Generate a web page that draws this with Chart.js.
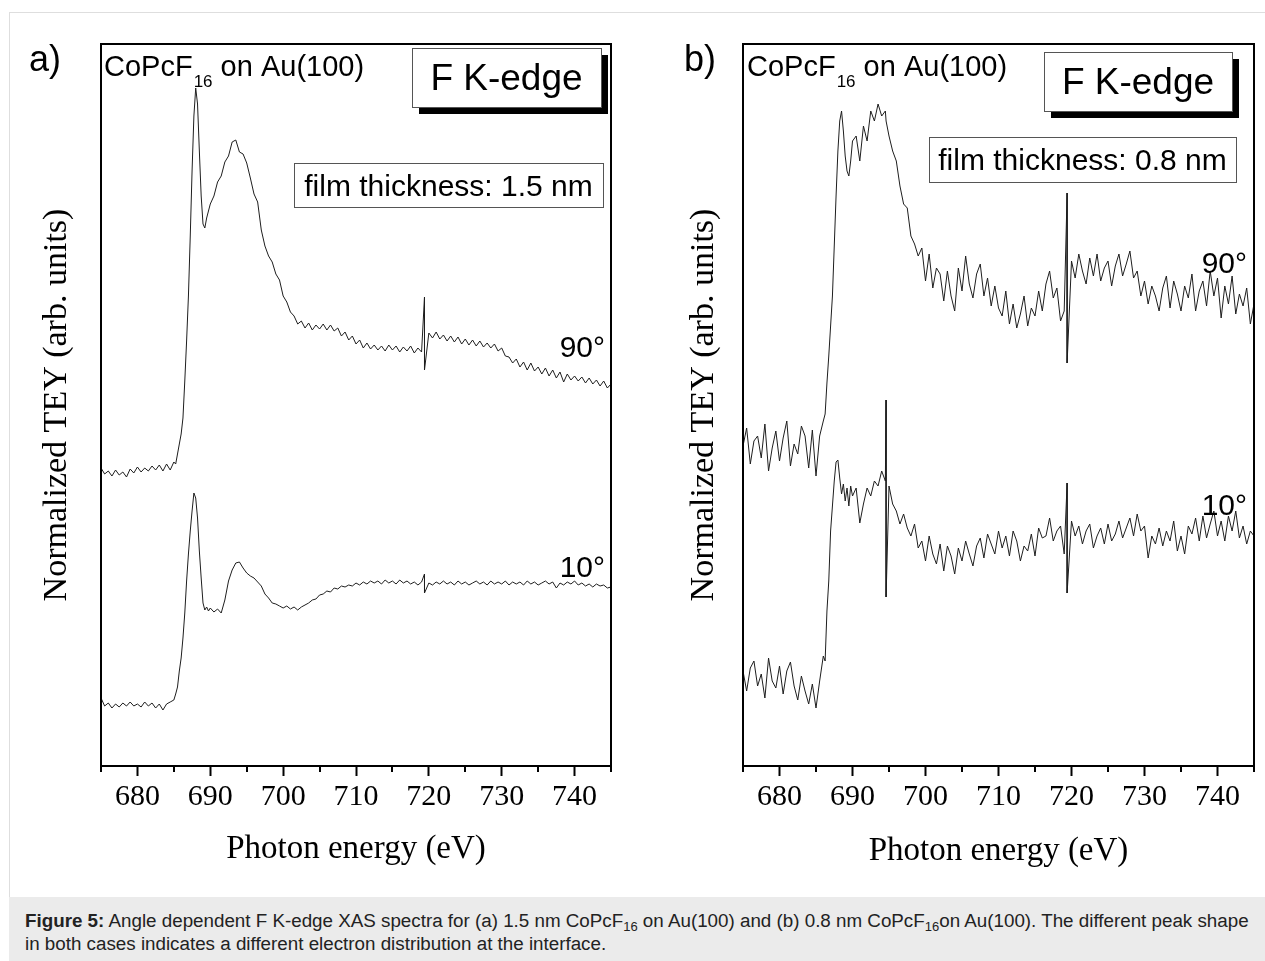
<!DOCTYPE html>
<html>
<head>
<meta charset="utf-8">
<title>F K-edge XAS spectra</title>
<script src="https://cdn.jsdelivr.net/npm/chart.js@4.4.1/dist/chart.umd.min.js"></script>
<style>
  html, body { margin: 0; padding: 0; background: #fff; }
  body { width: 1265px; height: 961px; position: relative; overflow: hidden; }
  .frame {
    position: absolute; left: 9px; top: 12px; width: 1256px; height: 885px;
    border-top: 1px solid #dedede; border-left: 1px solid #dedede; box-sizing: border-box;
  }
  canvas { position: absolute; top: 0; }
  #panelA { left: 0; }
  #panelB { left: 632px; }
  .caption {
    position: absolute; left: 9px; top: 897px; width: 1256px; height: 64px;
    background: #ebebeb; color: #222; box-sizing: border-box; padding: 12px 0 0 16px;
    font: 18.8px "Liberation Sans", Arial, sans-serif; line-height: 23px; white-space: nowrap;
  }
  .caption sub { font-size: 13px; line-height: 0; vertical-align: -4px; }
</style>
</head>
<body>
<div class="frame"></div>
<canvas id="panelA" width="632" height="895"></canvas>
<canvas id="panelB" width="633" height="895"></canvas>
<div class="caption"><b>Figure 5:</b> Angle dependent F K-edge XAS spectra for (a) 1.5 nm CoPcF<sub>16</sub> on Au(100) and (b) 0.8 nm CoPcF<sub>16</sub>on Au(100). The different peak shape<br>in both cases indicates a different electron distribution at the interface.</div>

<script>
// tick labels of the photon energy axis (eV)
const tickLabelsX = [680, 690, 700, 710, 720, 730, 740];
const minorTicksX = [675, 685, 695, 705, 715, 725, 735, 745];

// panel a) 1.5 nm film: photon energy (eV)
const energyA = [
  675, 675.5, 676, 676.5, 677, 677.5, 678, 678.5, 679, 679.5, 680, 680.5, 681, 681.5, 682, 682.5, 683, 683.5, 684, 684.5, 685,
  685.25, 685.5, 685.75, 686, 686.25, 686.5, 686.75, 687, 687.25, 687.5, 687.75, 688, 688.25, 688.5, 688.75, 689, 689.25, 689.5, 689.75, 690,
  690.5, 691, 691.5, 692, 692.5, 693, 693.5, 694, 694.5, 695, 695.5, 696, 696.5, 697, 697.5, 698, 698.5, 699, 699.5, 700, 700.5, 701, 701.5, 702, 702.5, 703, 703.5, 704, 704.5,
  705, 705.5, 706, 706.5, 707, 707.5, 708, 708.5, 709, 709.5, 710, 710.5, 711, 711.5, 712, 712.5, 713, 713.5, 714, 714.5, 715, 715.5, 716, 716.5, 717, 717.5, 718, 718.5, 719,
  719.4, 719.4,
  720, 720.5, 721, 721.5, 722, 722.5, 723, 723.5, 724, 724.5, 725, 725.5, 726, 726.5, 727, 727.5, 728, 728.5, 729, 729.5, 730, 730.5, 731, 731.5, 732,
  732.5, 733, 733.5, 734, 734.5, 735, 735.5, 736, 736.5, 737, 737.5, 738, 738.5, 739, 739.5, 740, 740.5, 741, 741.5, 742, 742.5, 743, 743.5, 744, 744.5, 745
];
// normalized TEY, 90 degrees (offset upwards)
const teyA90 = [
  2.98, 2.92, 2.95, 2.90, 2.96, 2.91, 2.94, 2.89, 2.97, 2.93, 2.99, 2.94, 2.98, 2.95, 3.00, 2.96, 3.01, 2.95, 3.02, 2.96, 3.04,
  3.02, 3.12, 3.22, 3.32, 3.48, 3.85, 4.25, 4.70, 5.30, 5.95, 6.50, 6.78, 6.62, 6.15, 5.70, 5.42, 5.38, 5.48, 5.55, 5.62,
  5.70, 5.84, 5.90, 6.04, 6.10, 6.24, 6.26, 6.14, 6.12, 6.03, 5.88, 5.72, 5.64, 5.36, 5.20, 5.10, 5.04, 4.92, 4.86, 4.70, 4.64, 4.54, 4.50, 4.42, 4.45, 4.38, 4.43, 4.36, 4.41,
  4.37, 4.42, 4.36, 4.41, 4.35, 4.38, 4.30, 4.34, 4.26, 4.30, 4.22, 4.26, 4.18, 4.23, 4.17, 4.21, 4.16, 4.20, 4.15, 4.21, 4.16, 4.20, 4.14, 4.19, 4.15, 4.20, 4.13, 4.18, 4.14,
  4.69, 3.96,
  4.33, 4.28, 4.34, 4.27, 4.31, 4.25, 4.30, 4.24, 4.29, 4.22, 4.27, 4.21, 4.26, 4.20, 4.25, 4.19, 4.23, 4.18, 4.22, 4.15, 4.18, 4.10, 4.09, 4.03, 4.07,
  3.99, 4.04, 3.96, 4.03, 3.95, 3.99, 3.92, 3.98, 3.90, 3.96, 3.88, 3.94, 3.84, 3.92, 3.86, 3.90, 3.85, 3.89, 3.83, 3.88, 3.82, 3.86, 3.80, 3.85, 3.78, 3.82
];
// normalized TEY, 10 degrees
const teyA10 = [
  0.68, 0.60, 0.63, 0.58, 0.62, 0.59, 0.63, 0.60, 0.64, 0.60, 0.62, 0.59, 0.64, 0.60, 0.63, 0.58, 0.62, 0.56, 0.62, 0.64, 0.66,
  0.72, 0.79, 0.95, 1.08, 1.28, 1.53, 1.85, 2.12, 2.35, 2.55, 2.73, 2.68, 2.48, 2.15, 1.88, 1.63, 1.56, 1.59, 1.55, 1.58,
  1.54, 1.57, 1.53, 1.66, 1.85, 1.96, 2.03, 2.04, 1.98, 1.93, 1.90, 1.88, 1.84, 1.80, 1.72, 1.68, 1.63, 1.62, 1.60, 1.58, 1.60, 1.57, 1.59, 1.56, 1.59, 1.61, 1.63, 1.66, 1.67,
  1.71, 1.72, 1.75, 1.74, 1.78, 1.77, 1.80, 1.79, 1.81, 1.80, 1.83, 1.81, 1.84, 1.82, 1.85, 1.83, 1.85, 1.82, 1.86, 1.83, 1.85, 1.82, 1.86, 1.83, 1.85, 1.82, 1.84, 1.81, 1.84,
  1.92, 1.73,
  1.83, 1.81, 1.84, 1.82, 1.85, 1.82, 1.84, 1.81, 1.85, 1.82, 1.84, 1.81, 1.83, 1.85, 1.82, 1.84, 1.81, 1.85, 1.82, 1.84, 1.82, 1.85, 1.81, 1.84, 1.82,
  1.84, 1.81, 1.85, 1.82, 1.84, 1.81, 1.83, 1.85, 1.82, 1.84, 1.78, 1.83, 1.81, 1.84, 1.82, 1.85, 1.81, 1.83, 1.80, 1.82, 1.79, 1.82, 1.80, 1.81, 1.78, 1.79
];

// panel b) 0.8 nm film: photon energy (eV)
const energyB = [
  675, 675.5, 676, 676.5, 677, 677.5, 678, 678.5, 679, 679.5, 680, 680.5, 681, 681.5, 682, 682.5, 683, 683.5, 684, 684.5, 685, 685.5, 686,
  686.25, 686.5, 686.75, 687, 687.25, 687.5, 687.75, 688, 688.25, 688.5, 688.75, 689, 689.25, 689.5, 689.75, 690,
  690.5, 691, 691.5, 692, 692.5, 693, 693.5, 694, 694.5,
  694.6, 694.6,
  695, 695.5, 696, 696.5, 697, 697.5, 698, 698.5, 699, 699.5, 700, 700.5, 701, 701.5, 702, 702.5, 703, 703.5, 704, 704.5, 705, 705.5, 706, 706.5, 707,
  707.5, 708, 708.5, 709, 709.5, 710, 710.5, 711, 711.5, 712, 712.5, 713, 713.5, 714, 714.5, 715, 715.5, 716, 716.5, 717, 717.5, 718, 718.5, 719,
  719.4, 719.4,
  720, 720.5, 721, 721.5, 722, 722.5, 723, 723.5, 724, 724.5, 725, 725.5, 726, 726.5, 727, 727.5, 728, 728.5, 729, 729.5, 730, 730.5, 731, 731.5, 732,
  732.5, 733, 733.5, 734, 734.5, 735, 735.5, 736, 736.5, 737, 737.5, 738, 738.5, 739, 739.5, 740, 740.5, 741, 741.5, 742, 742.5, 743, 743.5, 744, 744.5, 745
];
const teyB90 = [
  3.20, 3.38, 3.02, 3.25, 3.30, 3.08, 3.42, 2.95, 3.18, 3.35, 3.05, 3.28, 3.45, 3.00, 3.22, 3.12, 3.40, 3.30, 2.98, 3.36, 2.90, 3.30, 3.45,
  3.52, 3.83, 4.10, 4.40, 4.70, 5.20, 5.70, 6.15, 6.45, 6.55, 6.35, 6.10, 5.95, 5.90, 6.05, 6.25,
  6.30, 6.05, 6.40, 6.25, 6.55, 6.45, 6.62, 6.50, 6.55,
  6.45, 6.45,
  6.30, 6.15, 6.05, 5.80, 5.62, 5.58, 5.30, 5.22, 5.10, 5.18, 4.85, 5.12, 4.78, 4.98, 4.92, 4.65, 4.95, 4.70, 4.55, 4.98, 4.75, 5.10, 4.82, 4.68, 4.92,
  5.02, 4.70, 4.88, 4.60, 4.80, 4.58, 4.50, 4.75, 4.42, 4.62, 4.38, 4.52, 4.70, 4.40, 4.58, 4.50, 4.75, 4.55, 4.82, 4.95, 4.68, 4.78, 4.45, 4.55,
  5.73, 4.03,
  5.05, 4.88, 5.12, 4.95, 4.82, 5.08, 4.90, 5.12, 4.85, 4.98, 5.05, 4.80, 5.00, 5.12, 4.90, 5.02, 5.15, 4.88, 4.95, 4.70, 4.85, 4.62, 4.80, 4.70, 4.55,
  4.78, 4.90, 4.58, 4.85, 4.72, 4.55, 4.80, 4.68, 4.92, 4.55, 4.75, 4.85, 4.60, 4.95, 4.70, 4.88, 4.48, 4.80, 4.62, 4.90, 4.52, 4.72, 4.60, 4.78, 4.42, 4.62
];
const teyB10 = [
  0.95, 0.75, 0.98, 1.05, 0.80, 0.92, 0.68, 1.08, 0.85, 0.78, 1.00, 0.72, 0.95, 1.04, 0.80, 0.66, 0.90, 0.75, 0.62, 0.82, 0.58, 0.85, 1.10,
  1.05, 1.55, 1.85, 2.35, 2.60, 2.85, 3.04, 3.06, 2.88, 2.72, 2.82, 2.65, 2.78, 2.60, 2.80, 2.70,
  2.78, 2.43, 2.62, 2.78, 2.70, 2.85, 2.80, 2.95, 2.85,
  3.66, 1.69,
  2.80, 2.62, 2.55, 2.42, 2.52, 2.38, 2.30, 2.42, 2.18, 2.25, 2.05, 2.30, 2.12, 2.02, 2.22, 1.95, 2.20, 2.10, 1.92, 2.18, 2.05, 2.25, 2.12, 2.00, 2.20,
  2.28, 2.08, 2.32, 2.22, 2.12, 2.35, 2.18, 2.30, 2.10, 2.35, 2.25, 2.05, 2.20, 2.15, 2.32, 2.10, 2.38, 2.28, 2.30, 2.48, 2.25, 2.35, 2.40, 2.12,
  2.83, 1.73,
  2.45, 2.30, 2.40, 2.22, 2.35, 2.42, 2.18, 2.30, 2.38, 2.22, 2.42, 2.25, 2.32, 2.45, 2.28, 2.38, 2.48, 2.30, 2.52, 2.35, 2.40, 2.08, 2.30, 2.22, 2.38,
  2.20, 2.35, 2.25, 2.45, 2.15, 2.30, 2.12, 2.40, 2.32, 2.48, 2.25, 2.50, 2.28, 2.42, 2.55, 2.30, 2.45, 2.25, 2.50, 2.35, 2.55, 2.28, 2.40, 2.22, 2.35, 2.30
];

const SERIF = '"Liberation Serif", "Times New Roman", serif';
const SANS = '"Liberation Sans", Arial, sans-serif';

// texts and boxes drawn on top of each panel
function decoPlugin(d) {
  return {
    id: 'deco',
    afterDraw(chart) {
      const ctx = chart.ctx;
      const a = chart.chartArea;
      const xs = chart.scales.x;
      ctx.save();
      // plot frame
      ctx.strokeStyle = '#000';
      ctx.lineWidth = 2;
      ctx.strokeRect(a.left, a.top, a.right - a.left, a.bottom - a.top);
      // minor ticks
      ctx.beginPath();
      minorTicksX.forEach(v => {
        const px = Math.round(xs.getPixelForValue(v));
        ctx.moveTo(px, a.bottom);
        ctx.lineTo(px, a.bottom + 6);
      });
      ctx.stroke();

      ctx.fillStyle = '#000';
      ctx.textBaseline = 'alphabetic';
      // panel letter
      ctx.font = '36px ' + SANS;
      ctx.textAlign = 'left';
      ctx.fillText(d.letter, d.letterX, d.letterY);

      // CoPcF16 on Au(100)
      let x = d.formX;
      ctx.font = '29px ' + SANS;
      ctx.fillText('CoPcF', x, d.formY);
      x += ctx.measureText('CoPcF').width + 1;
      ctx.font = '17px ' + SANS;
      ctx.fillText('16', x, d.formY + 11);
      x += ctx.measureText('16').width;
      ctx.font = '29px ' + SANS;
      ctx.fillText(' on Au(100)', x, d.formY);

      // "F K-edge" box with drop shadow
      const k = d.edgeBox;
      ctx.fillStyle = '#000';
      ctx.fillRect(k.x + 7, k.y + 7, k.w, k.h);
      ctx.fillStyle = '#fff';
      ctx.fillRect(k.x, k.y, k.w, k.h);
      ctx.lineWidth = 1;
      ctx.strokeStyle = '#555';
      ctx.strokeRect(k.x + 0.5, k.y + 0.5, k.w, k.h);
      ctx.fillStyle = '#000';
      ctx.font = '37px ' + SANS;
      ctx.textAlign = 'center';
      ctx.fillText('F K-edge', k.x + k.w / 2, k.y + 42);

      // film thickness box
      const f = d.filmBox;
      ctx.fillStyle = '#fff';
      ctx.fillRect(f.x, f.y, f.w, f.h);
      ctx.strokeStyle = '#555';
      ctx.strokeRect(f.x + 0.5, f.y + 0.5, f.w, f.h);
      ctx.fillStyle = '#000';
      ctx.font = '30px ' + SANS;
      ctx.fillText(d.film, f.x + f.w / 2, f.y + 33);

      // angle labels
      ctx.textAlign = 'right';
      ctx.font = '30px ' + SANS;
      d.angles.forEach(t => ctx.fillText(t.text, t.x, t.y));
      ctx.restore();
    }
  };
}

function buildPanel(id, energy, s90, s10, lay, deco) {
  const toPoints = s => energy.map((e, i) => ({ x: e, y: s[i] }));
  const line = s => ({
    data: toPoints(s),
    borderColor: '#1e1e1e',
    borderWidth: 1,
    pointRadius: 0,
    tension: 0,
    fill: false
  });
  return new Chart(document.getElementById(id), {
    type: 'line',
    data: { datasets: [line(s90), line(s10)] },
    options: {
      responsive: false,
      animation: false,
      devicePixelRatio: 1,
      layout: { padding: { left: 0, top: 44, right: lay.padRight, bottom: 0 } },
      plugins: { legend: { display: false }, tooltip: { enabled: false } },
      scales: {
        x: {
          type: 'linear',
          min: 675,
          max: 745,
          afterBuildTicks: s => { s.ticks = tickLabelsX.map(v => ({ value: v })); },
          afterFit: s => { s.height = 129; },
          border: { display: false },
          grid: { drawOnChartArea: false, drawTicks: true, tickLength: 10, tickWidth: 2, tickColor: '#000' },
          ticks: { color: '#000', padding: 3, maxRotation: 0, autoSkip: false, font: { family: SERIF, size: 30 } },
          title: {
            display: true,
            text: 'Photon energy (eV)',
            color: '#000',
            font: { family: SERIF, size: 33 },
            padding: { top: 0, bottom: lay.xTitlePad }
          }
        },
        y: {
          min: 0,
          max: 7.22,
          afterFit: s => { s.width = lay.yWidth; },
          border: { display: false },
          grid: { display: false },
          ticks: { display: false },
          title: {
            display: true,
            text: 'Normalized TEY (arb. units)',
            color: '#000',
            font: { family: SERIF, size: 34 },
            padding: { top: lay.yTitlePad, bottom: 0 }
          }
        }
      }
    },
    plugins: [decoPlugin(deco)]
  });
}

buildPanel('panelA', energyA, teyA90, teyA10,
  { padRight: 21, yWidth: 101, yTitlePad: 37, xTitlePad: 26 },
  {
    letter: 'a)', letterX: 29, letterY: 71,
    formX: 104, formY: 76,
    edgeBox: { x: 412, y: 48, w: 189, h: 59 },
    filmBox: { x: 294, y: 163, w: 309, h: 44 },
    film: 'film thickness: 1.5 nm',
    angles: [{ text: '90°', x: 605, y: 357 }, { text: '10°', x: 605, y: 577 }]
  });

buildPanel('panelB', energyB, teyB90, teyB10,
  { padRight: 11, yWidth: 111, yTitlePad: 52, xTitlePad: 24 },
  {
    letter: 'b)', letterX: 52, letterY: 71,
    formX: 115, formY: 76,
    edgeBox: { x: 412, y: 52, w: 188, h: 59 },
    filmBox: { x: 297, y: 137, w: 307, h: 45 },
    film: 'film thickness: 0.8 nm',
    angles: [{ text: '90°', x: 615, y: 273 }, { text: '10°', x: 615, y: 515 }]
  });
</script>
</body>
</html>
